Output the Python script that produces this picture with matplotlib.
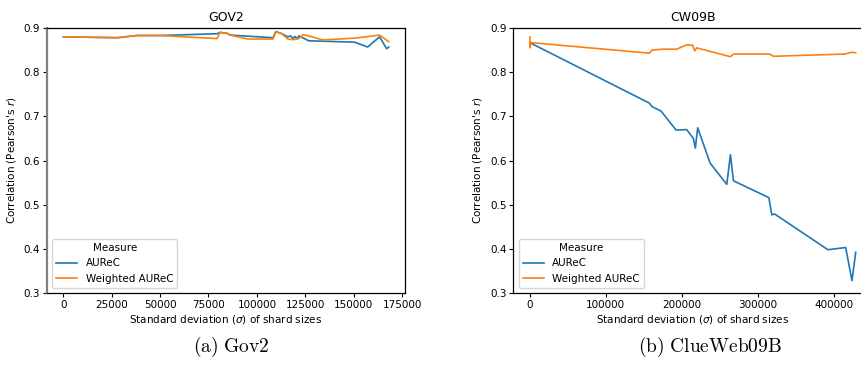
import matplotlib
matplotlib.use("Agg")
import matplotlib.pyplot as plt

plt.rcParams['mathtext.fontset'] = 'dejavusans'

# ---------------- GOV2 data ----------------
gov2_aurec_x = [0, 27800, 38100, 50000, 79400, 80900, 84500, 86100, 108300, 109800,
                112900, 116000, 117500, 118600, 119600, 120600, 121700, 123200, 126800,
                150500, 157200, 163400, 167000, 168100]
gov2_aurec_y = [0.880, 0.878, 0.883, 0.883, 0.887, 0.890, 0.888, 0.884, 0.878, 0.892,
                0.887, 0.880, 0.882, 0.876, 0.881, 0.876, 0.882, 0.879, 0.871,
                0.868, 0.857, 0.880, 0.853, 0.857]
gov2_waurec_x = [0, 27800, 38100, 50000, 79400, 80900, 84500, 86100, 95400, 108300,
                 109800, 112900, 116000, 117500, 119600, 121700, 124000, 126800, 134000,
                 150500, 163400, 168100]
gov2_waurec_y = [0.880, 0.878, 0.883, 0.883, 0.876, 0.890, 0.888, 0.884, 0.875, 0.875,
                 0.892, 0.887, 0.875, 0.874, 0.874, 0.876, 0.885, 0.882, 0.873,
                 0.877, 0.884, 0.869]

# ---------------- CW09B data ----------------
cw_aurec_x = [0, 500, 1000, 157400, 161000, 172800, 192600, 206600, 215400, 218000,
              221100, 237500, 259400, 264200, 268200, 314800, 318700, 322300,
              392600, 416000, 424300, 429200]
cw_aurec_y = [0.866, 0.866, 0.866, 0.730, 0.722, 0.712, 0.669, 0.670, 0.650, 0.628,
              0.674, 0.594, 0.546, 0.613, 0.554, 0.516, 0.477, 0.479,
              0.398, 0.403, 0.328, 0.392]
cw_waurec_x = [0, 500, 1000, 157400, 161000, 175000, 193500, 206600, 214500, 217200,
               219800, 264200, 268200, 315700, 321000, 414700, 423500, 429200]
cw_waurec_y = [0.880, 0.855, 0.867, 0.843, 0.850, 0.852, 0.852, 0.862, 0.861, 0.848,
               0.855, 0.835, 0.841, 0.841, 0.836, 0.841, 0.845, 0.844]

titles = ["GOV2", "CW09B"]
captions = [r"$\mathrm{(a)\ Gov2}$", r"$\mathrm{(b)\ ClueWeb09B}$"]
series_names = ["AUReC", "Weighted AUReC"]
gov2_xticks = [0, 25000, 50000, 75000, 100000, 125000, 150000, 175000]
cw_xticks = [0, 100000, 200000, 300000, 400000]
yticks = [0.3, 0.4, 0.5, 0.6, 0.7, 0.8, 0.9]

blue = "#1f77b4"
orange = "#ff7f0e"

W, H = 862, 372
fig = plt.figure(figsize=(W / 100, H / 100), dpi=100)

ax1 = fig.add_axes([47 / W, 79 / H, 358 / W, 265 / H])
ax2 = fig.add_axes([513.5 / W, 79 / H, 358.5 / W, 265 / H])

data = [
    (ax1, gov2_aurec_x, gov2_aurec_y, gov2_waurec_x, gov2_waurec_y, gov2_xticks),
    (ax2, cw_aurec_x, cw_aurec_y, cw_waurec_x, cw_waurec_y, cw_xticks),
]

fs = 7.5
for i, (ax, ax_x, ax_y, wx, wy, xt) in enumerate(data):
    ax.plot(ax_x, ax_y, color=blue, lw=1.2, label=series_names[0])
    ax.plot(wx, wy, color=orange, lw=1.2, label=series_names[1])
    ax.set_ylim(0.3, 0.9)
    ax.set_yticks(yticks)
    ax.set_xticks(xt)
    ax.set_xticklabels([str(v) for v in xt])
    ax.tick_params(labelsize=fs, length=3, width=0.8, pad=2)
    ax.set_title(titles[i], fontsize=9, pad=5)
    ax.set_xlabel(r"Standard deviation ($\sigma$) of shard sizes", fontsize=fs, labelpad=2)
    ax.set_ylabel(r"Correlation (Pearson's $r$)", fontsize=fs, labelpad=4)
    leg = ax.legend(title="Measure", loc="lower left", fontsize=fs, title_fontsize=fs,
                    handlelength=2.0, borderaxespad=0.5)
    for sp in ax.spines.values():
        sp.set_linewidth(0.9)
    ax.margins(x=0.05)

ax1.spines['left'].set_color('#808080')
ax1.spines['left'].set_linewidth(1.6)

for i, cx in enumerate([231, 710]):
    fig.text(cx / W, 1 - 347 / H, captions[i], fontsize=14, ha='center', va='center',
             math_fontfamily='cm')

fig.savefig("out.png", dpi=100)
